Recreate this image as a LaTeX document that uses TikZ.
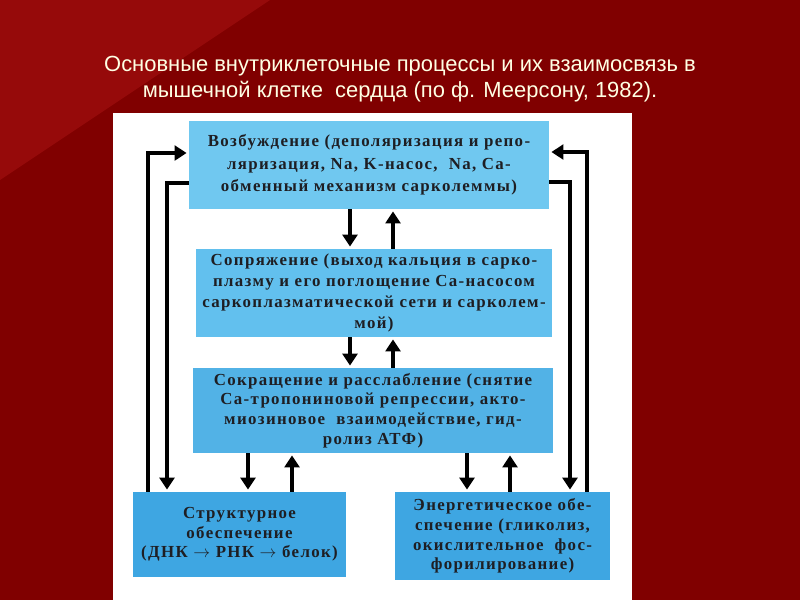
\documentclass[tikz,border=0pt]{standalone}
\usepackage{fontspec}
\setmainfont{Liberation Serif}
\newfontfamily\titlefont{Liberation Sans}
\newfontfamily\boxfont[LetterSpace=8]{Liberation Serif}
\usetikzlibrary{arrows.meta}

\definecolor{bgred}{RGB}{128,0,0}
\definecolor{bglight}{RGB}{150,10,10}
\definecolor{titletext}{RGB}{255,255,228}
\definecolor{boxA}{RGB}{112,200,240}
\definecolor{boxB}{RGB}{98,192,238}
\definecolor{boxC}{RGB}{82,178,230}
\definecolor{boxD}{RGB}{62,166,226}
\definecolor{boxtext}{RGB}{30,30,35}

\tikzset{
  box/.style={inner sep=0pt, align=center, text=boxtext,
    font=\boxfont\bfseries\fontsize{12}{#1}\selectfont},
  arr/.style={line width=2.6pt, -{Triangle[length=8.5pt,width=10.5pt]}, shorten >=1.5pt}
}

\begin{document}
\begin{tikzpicture}[x=0.025cm, y=-0.025cm]
      % Background
      \useasboundingbox (0,0) rectangle (800,600);
      \fill[bgred] (0,0) rectangle (800,600);
      \fill[bglight] (0,0) -- (270,0) -- (0,180) -- cycle;
      \fill[white] (113,113) rectangle (632,600);

      % Title
      \node[text=titletext, align=center, font=\titlefont\fontsize{15.6}{19}\selectfont] (ttl) at (400,79)
        {Основные внутриклеточные процессы и их взаимосвязь в\\мышечной клетке \ сердца (по ф. Меерсону, 1982).};

      % Nodes
      \node[box=16pt, fill=boxA, minimum width=9cm, minimum height=2.2cm] (b1) at (369,165)
        {Возбуждение (деполяризация и репо-\\ляризация, Na, K-насос, \ Na, Ca-\\обменный механизм сарколеммы)};
      \node[box=15pt, fill=boxB, minimum width=8.9cm, minimum height=2.2cm] (b2) at (374,293)
        {Сопряжение (выход кальция в сарко-\\плазму и его поглощение Ca-насосом\\саркоплазматической сети и сарколем-\\мой)};
      \node[box=14pt, fill=boxC, minimum width=9cm, minimum height=2.125cm] (b3) at (373,410.5)
        {Сокращение и расслабление (снятие\\Ca-тропониновой репрессии, акто-\\миозиновое \ взаимодействие, гид-\\ролиз АТФ)};
      \node[box=14pt, fill=boxD, minimum width=5.325cm, minimum height=2.125cm] (b4) at (239.5,534.5)
        {Структурное\\обеспечение\\(ДНК $\to$ РНК $\to$ белок)};
      \node[box=14pt, fill=boxD, minimum width=5.375cm, minimum height=2.2cm] (b5) at (502.5,536)
        {Энергетическое обе-\\спечение (гликолиз,\\окислительное \ фос-\\форилирование)};

      % Arrow columns
      \coordinate (c1) at (350,0);
      \coordinate (c2) at (393,0);
      \coordinate (c3) at (248,0);
      \coordinate (c4) at (292,0);
      \coordinate (c5) at (467,0);
      \coordinate (c6) at (510,0);
      \coordinate (lo) at (148,153);
      \coordinate (li) at (167,183);
      \coordinate (ro) at (587,152);
      \coordinate (ri) at (570,182);

      % Arrows
      \draw[arr] (b1.south -| c1) -- (b2.north -| c1);
      \draw[arr] (b2.north -| c2) -- (b1.south -| c2);
      \draw[arr] (b2.south -| c1) -- (b3.north -| c1);
      \draw[arr] (b3.north -| c2) -- (b2.south -| c2);
      \draw[arr] (b3.south -| c3) -- (b4.north -| c3);
      \draw[arr] (b4.north -| c4) -- (b3.south -| c4);
      \draw[arr] (b3.south -| c5) -- (b5.north -| c5);
      \draw[arr] (b5.north -| c6) -- (b3.south -| c6);

      \draw[arr] (b4.north -| lo) -- (lo) -- (lo -| b1.west);
      \draw[arr] (li -| b1.west) -- (li) -- (li |- b4.north);
      \draw[arr] (b5.north -| ro) -- (ro) -- (ro -| b1.east);
      \draw[arr] (ri -| b1.east) -- (ri) -- (ri |- b5.north);
\end{tikzpicture}
\end{document}
